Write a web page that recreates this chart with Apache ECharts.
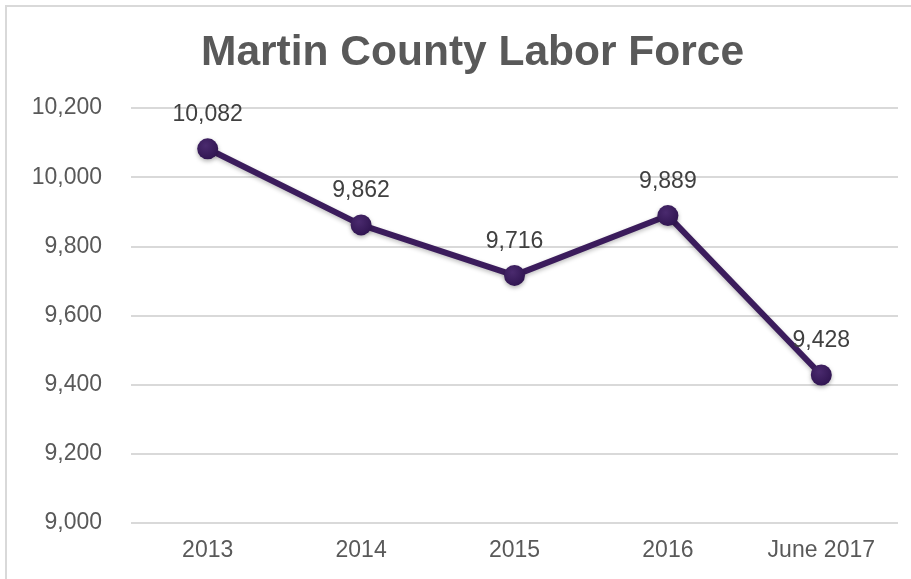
<!DOCTYPE html>
<html>
<head>
<meta charset="utf-8">
<script src="https://cdn.jsdelivr.net/npm/echarts@6/dist/echarts.min.js"></script>
<style>
  html, body { margin: 0; padding: 0; background: #fff; }
  #chart { width: 911px; height: 579px; }
</style>
</head>
<body>
<div id="chart"></div>
<script>
// Labor force by period
const categories = ['2013', '2014', '2015', '2016', 'June 2017'];
const laborForce = [10082, 9862, 9716, 9889, 9428];
const yTicks = [9000, 9200, 9400, 9600, 9800, 10000, 10200];

const fmt = v => v.toLocaleString('en-US');
const lineColor = '#3b1c5c';

const chart = echarts.init(document.getElementById('chart'), null, { renderer: 'canvas' });
chart.setOption({
  backgroundColor: '#ffffff',
  animation: false,
  textStyle: { fontFamily: 'Liberation Sans, Arial, sans-serif' },
  graphic: [{
    type: 'rect',
    shape: { x: 6, y: 6, width: 920, height: 600 },
    style: { fill: 'none', stroke: '#d9d9d9', lineWidth: 2 },
    silent: true
  }],
  title: {
    text: 'Martin County Labor Force',
    left: 196,
    top: 27,
    textStyle: {
      fontFamily: 'Liberation Sans, Arial, sans-serif',
      fontSize: 42.5,
      fontWeight: 'bold',
      color: '#595959'
    }
  },
  grid: { left: 131, right: 13, top: 108, bottom: 56, containLabel: false },
  xAxis: {
    type: 'category',
    data: categories,
    boundaryGap: true,
    axisLine: { show: false },
    axisTick: { show: false },
    axisLabel: { color: '#595959', fontSize: 23, margin: 16 }
  },
  yAxis: {
    type: 'value',
    min: yTicks[0],
    max: yTicks[yTicks.length - 1],
    interval: 200,
    axisLine: { show: false },
    axisTick: { show: false },
    splitLine: { lineStyle: { color: '#d9d9d9', width: 2 } },
    axisLabel: { color: '#595959', fontSize: 23, margin: 29, formatter: v => fmt(v) }
  },
  series: [{
    type: 'line',
    data: laborForce,
    symbol: 'circle',
    symbolSize: 21,
    lineStyle: {
      color: lineColor, width: 6,
      shadowColor: 'rgba(0,0,0,0.25)', shadowBlur: 4, shadowOffsetY: 2
    },
    itemStyle: {
      color: {
        type: 'radial', x: 0.4, y: 0.35, r: 0.7,
        colorStops: [{ offset: 0, color: '#4a2a6e' }, { offset: 1, color: '#2f1450' }]
      },
      borderWidth: 0,
      shadowColor: 'rgba(0,0,0,0.3)', shadowBlur: 4, shadowOffsetY: 2
    },
    label: {
      show: true,
      position: 'top',
      distance: 12,
      color: '#404040',
      fontSize: 23,
      formatter: p => fmt(p.value)
    }
  }]
});
</script>
</body>
</html>
